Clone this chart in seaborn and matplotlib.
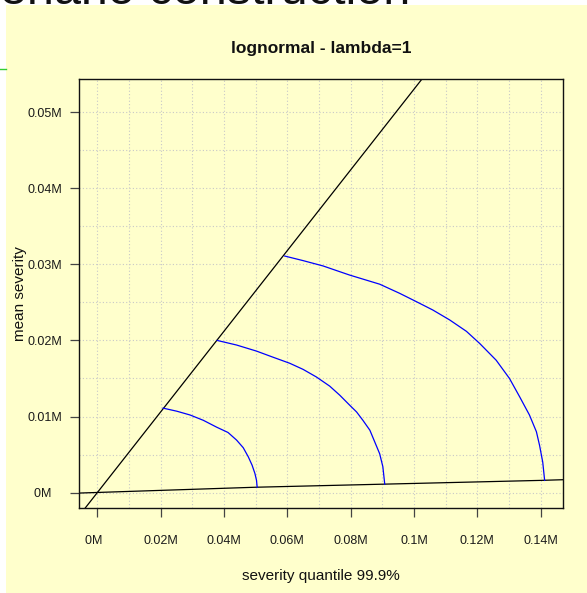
import matplotlib
matplotlib.use("Agg")
import matplotlib.pyplot as plt
from matplotlib.patches import Rectangle
from matplotlib.lines import Line2D
import seaborn as sns
import pandas as pd

plt.rcParams['font.family'] = ['Liberation Sans', 'DejaVu Sans']

# ---- data (values in millions) ----
x_ticks = [0.0, 0.02, 0.04, 0.06, 0.08, 0.10, 0.12, 0.14]
x_tick_labels = ["0M  ", "0.02M", "0.04M", "0.06M", "0.08M", "0.1M", "0.12M", "0.14M"]
y_ticks = [0.0, 0.01, 0.02, 0.03, 0.04, 0.05]
y_tick_labels = ["0M   ", "0.01M", "0.02M", "0.03M", "0.04M", "0.05M"]

diag_x = [-0.0045, 0.106]
diag_y = [-0.0024, 0.0562]

low_x = [-0.006, 0.05, 0.09, 0.14, 0.148]
low_y = [-0.00007, 0.0007, 0.0011, 0.0016, 0.0017]

arc1_x = [0.0208, 0.0251, 0.0293, 0.0335, 0.0377, 0.0413, 0.0440, 0.0461, 0.0477,
          0.0489, 0.0498, 0.0503, 0.0505]
arc1_y = [0.0111, 0.0107, 0.0102, 0.0095, 0.0086, 0.0079, 0.0069, 0.0059, 0.0047,
          0.0036, 0.0025, 0.0016, 0.0007]

arc2_x = [0.0379, 0.0440, 0.0503, 0.0555, 0.0608, 0.0650, 0.0692, 0.0734, 0.0766,
          0.0797, 0.0819, 0.0839, 0.0861, 0.0876, 0.0892, 0.0902, 0.0908]
arc2_y = [0.0200, 0.0194, 0.0186, 0.0178, 0.0170, 0.0162, 0.0152, 0.0140, 0.0128,
          0.0115, 0.0106, 0.0095, 0.0082, 0.0067, 0.0051, 0.0034, 0.0011]

arc3_x = [0.0592, 0.0650, 0.0713, 0.0797, 0.0892, 0.0955, 0.1008, 0.1060, 0.1113,
          0.1166, 0.1208, 0.1260, 0.1302, 0.1334, 0.1365, 0.1387, 0.1397, 0.1407, 0.1413]
arc3_y = [0.0311, 0.0305, 0.0298, 0.0286, 0.0274, 0.0262, 0.0251, 0.0240, 0.0227,
          0.0212, 0.0196, 0.0174, 0.0150, 0.0126, 0.0102, 0.0080, 0.0062, 0.0040, 0.0016]

W, H = 587, 593
fig = plt.figure(figsize=(W / 100, H / 100), dpi=100)
fig.patch.set_facecolor('white')

YEL = '#FFFFCC'
fig.add_artist(Rectangle((6 / W, 0), 1 - 6 / W, 1 - 5 / H, transform=fig.transFigure,
                         facecolor=YEL, edgecolor='none', zorder=-10))
fig.add_artist(Line2D([0, 6 / W], [1 - 69 / H, 1 - 69 / H], transform=fig.transFigure,
                      color='#33CC33', lw=1.0))
fig.text(410 / W, 1 - 4 / H, "Scenario construction", ha='right', va='baseline',
         fontsize=35, color='#111111')

ax = fig.add_axes([79 / W, 1 - 508 / H, (563 - 79) / W, (508 - 79) / H])
ax.set_facecolor(YEL)

def draw(xs, ys, color):
    df = pd.DataFrame({'x': xs, 'y': ys})
    sns.lineplot(data=df, x='x', y='y', ax=ax, color=color, lw=0.9, sort=False,
                 estimator=None)

draw(diag_x, diag_y, 'black')
draw(low_x, low_y, 'black')
draw(arc1_x, arc1_y, '#0000FF')
draw(arc2_x, arc2_y, '#0000FF')
draw(arc3_x, arc3_y, '#0000FF')

ax.set_xlim(-0.00577, 0.1471)
ax.set_ylim(-0.00203, 0.05438)
ax.set_xlabel('')
ax.set_ylabel('')

ax.set_xticks(x_ticks)
ax.set_xticklabels(x_tick_labels)
ax.set_yticks(y_ticks)
ax.set_yticklabels(y_tick_labels)
ax.set_xticks([i * 0.01 for i in range(15)], minor=True)
ax.set_yticks([i * 0.005 for i in range(11)], minor=True)
ax.tick_params(axis='both', which='minor', length=0)
ax.tick_params(axis='x', which='major', direction='out', length=6.5, width=0.9,
               color='#444444', labelsize=9, pad=13, labelcolor='#1a1a1a')
ax.tick_params(axis='y', which='major', direction='out', length=6.5, width=0.9,
               color='#444444', labelsize=9, pad=5.8, labelcolor='#1a1a1a')
ax.grid(which='both', color='#C8C8C8', linestyle=(0, (1, 2)), lw=0.8)
ax.set_axisbelow(True)
for s in ax.spines.values():
    s.set_color('#111111')
    s.set_linewidth(1.0)

fig.text(321 / W, 1 - 48 / H, "lognormal - lambda=1", ha='center', va='center',
         fontsize=12.5, fontweight='bold', color='#111111')
fig.text(321 / W, 1 - 576 / H, "severity quantile 99.9%", ha='center', va='center',
         fontsize=11, color='#111111')
fig.text(20 / W, 1 - 294 / H, "mean severity", ha='center', va='center', rotation=90,
         fontsize=11, color='#111111')

fig.savefig('out.png', dpi=100, facecolor=fig.get_facecolor())
